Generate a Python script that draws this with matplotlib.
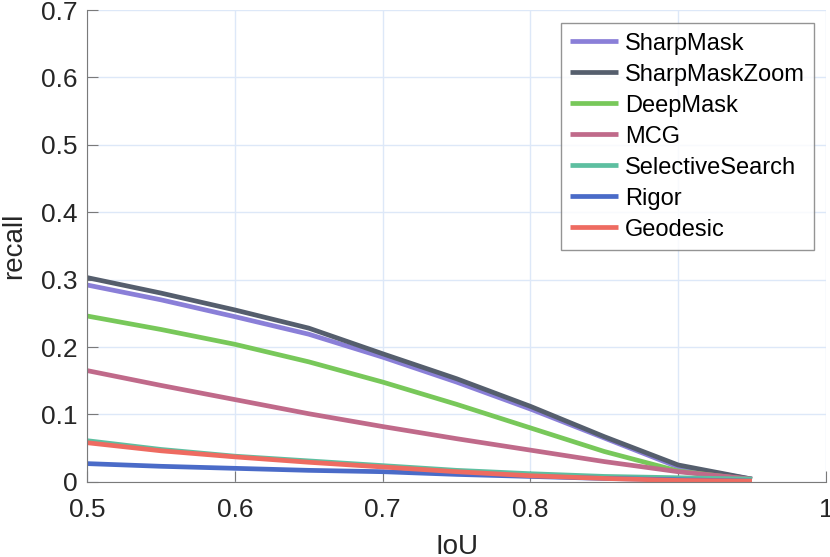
import numpy as np
import matplotlib
matplotlib.use("Agg")
import matplotlib.pyplot as plt

plt.rcParams["font.family"] = ["Liberation Sans", "DejaVu Sans"]

iou = [0.5, 0.55, 0.6, 0.65, 0.7, 0.75, 0.8, 0.85, 0.9, 0.95]

sharpmask = [0.292, 0.270, 0.245, 0.219, 0.185, 0.148, 0.108, 0.065, 0.022, 0.004]
sharpmask_zoom = [0.303, 0.280, 0.255, 0.228, 0.190, 0.153, 0.112, 0.067, 0.025, 0.004]
deepmask = [0.246, 0.226, 0.204, 0.178, 0.148, 0.115, 0.080, 0.045, 0.016, 0.003]
mcg = [0.165, 0.143, 0.122, 0.101, 0.082, 0.064, 0.047, 0.030, 0.015, 0.004]
selective_search = [0.061, 0.048, 0.038, 0.031, 0.024, 0.017, 0.012, 0.008, 0.006, 0.004]
rigor = [0.027, 0.023, 0.020, 0.017, 0.015, 0.011, 0.008, 0.005, 0.003, 0.001]
geodesic = [0.058, 0.046, 0.037, 0.029, 0.022, 0.015, 0.009, 0.005, 0.002, 0.001]

names = ["SharpMask", "SharpMaskZoom", "DeepMask", "MCG",
         "SelectiveSearch", "Rigor", "Geodesic"]
series = [sharpmask, sharpmask_zoom, deepmask, mcg,
          selective_search, rigor, geodesic]
colours = ["#8a7fd8", "#555e6d", "#78c85a", "#c06a8a",
           "#5dbfa0", "#4a6bc8", "#ee6b61"]

fig = plt.figure(figsize=(8.3, 5.57), dpi=100)
ax = fig.add_axes([0.105, 0.135, 0.89, 0.847])

for name, vals, col in zip(names, series, colours):
    ax.plot(iou, vals, color=col, lw=3.4, label=name, solid_capstyle="butt")

ax.set_xlim(0.5, 1)
ax.set_ylim(0, 0.7)
ax.set_xticks([0.5, 0.6, 0.7, 0.8, 0.9, 1])
ax.set_xticklabels(["0.5", "0.6", "0.7", "0.8", "0.9", "1"])
ax.set_yticks(np.arange(0, 0.71, 0.1))
ax.set_yticklabels(["0", "0.1", "0.2", "0.3", "0.4", "0.5", "0.6", "0.7"])
ax.grid(True, color="#dde8f8", lw=1)
ax.set_axisbelow(True)
for side in ["top", "right"]:
    ax.spines[side].set_visible(False)
for side in ["left", "bottom"]:
    ax.spines[side].set_color("#7a7a7a")
ax.tick_params(direction="in", length=8, colors="#7a7a7a",
               labelcolor="#262626", labelsize=19)
ax.tick_params(axis="x", pad=12)
ax.tick_params(axis="y", pad=7)
ax.set_xlabel("IoU", fontsize=20, color="#262626", labelpad=8)
ax.set_ylabel("recall", fontsize=20, color="#262626", labelpad=10)

leg = ax.legend(loc="upper right", bbox_to_anchor=(0.984, 0.972),
                fontsize=17, frameon=True, fancybox=False,
                handlelength=2.0, labelspacing=0.38, borderpad=0.4,
                handletextpad=0.3, borderaxespad=0)
leg.get_frame().set_edgecolor("#7a7a7a")
leg.get_frame().set_linewidth(1)

fig.savefig("out.png", dpi=100)
